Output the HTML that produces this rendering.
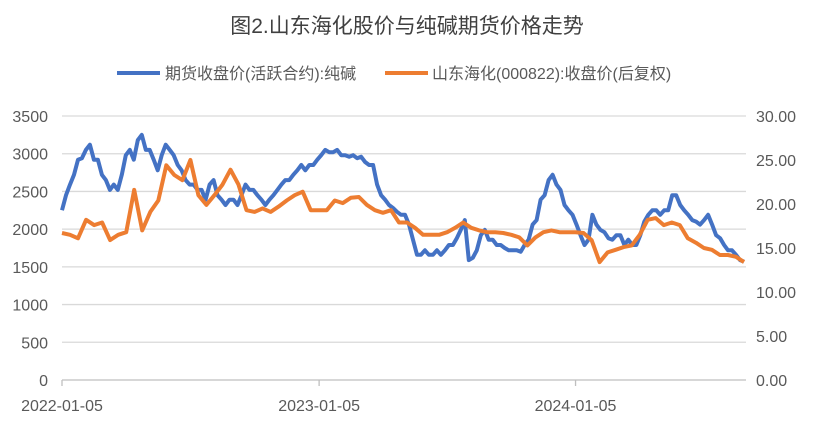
<!DOCTYPE html>
<html><head><meta charset="utf-8"><style>
body{margin:0;background:#fff;font-family:"Liberation Sans","Noto Sans CJK SC",sans-serif;}
</style></head><body>
<svg id="chart" width="814" height="423" xmlns="http://www.w3.org/2000/svg" style="font-family:'Liberation Sans','Noto Sans CJK SC',sans-serif">
<text x="407" y="33" text-anchor="middle" font-size="21" fill="#404040">图2.山东海化股价与纯碱期货价格走势</text>
<g>
<line x1="117" y1="73" x2="160" y2="73" stroke="#4472C4" stroke-width="4"/>
<text x="165" y="79" font-size="16" fill="#595959">期货收盘价(活跃合约):纯碱</text>
<line x1="385" y1="73" x2="428" y2="73" stroke="#ED7D31" stroke-width="4"/>
<text x="432" y="79" font-size="16" fill="#595959">山东海化(000822):收盘价(后复权)</text>
</g>
<g id="grid"></g><g id="axes"></g><g id="series"></g>
</svg>
<script>
const leftTicks=[0,500,1000,1500,2000,2500,3000,3500];
const rightTicks=["0.00","5.00","10.00","15.00","20.00","25.00","30.00"];
const dateLabels=["2022-01-05","2023-01-05","2024-01-05"];
const dateLabelPos=[0,0.377,0.753];
const sodaAsh=[2250,2450,2590,2720,2920,2940,3050,3120,2920,2920,2720,2650,2520,2590,2520,2720,2980,3050,2920,3180,3250,3050,3050,2920,2780,2980,3120,3050,2980,2850,2780,2650,2590,2590,2520,2520,2390,2590,2650,2450,2390,2320,2390,2390,2320,2450,2590,2520,2520,2450,2390,2320,2390,2450,2520,2590,2650,2650,2720,2780,2850,2780,2850,2850,2920,2980,3050,3020,3020,3050,2980,2980,2960,2980,2940,2960,2890,2850,2850,2590,2450,2390,2320,2280,2230,2190,2190,2060,1860,1660,1660,1720,1660,1660,1720,1660,1720,1790,1790,1880,1990,2120,1590,1620,1720,1920,1990,1860,1860,1790,1790,1750,1720,1720,1720,1700,1790,1860,2060,2120,2390,2450,2650,2720,2590,2520,2320,2250,2190,2060,1920,1790,1860,2190,2060,1990,1960,1880,1860,1920,1920,1790,1860,1790,1790,1920,2100,2190,2250,2250,2190,2250,2250,2450,2450,2320,2250,2190,2120,2100,2060,2120,2190,2060,1920,1880,1790,1720,1720,1660,1590,1570];
const haihua=[16.7,16.5,16.1,18.2,17.6,17.9,15.9,16.5,16.8,21.6,17.0,19.1,20.4,24.4,23.3,22.7,25.0,21.0,19.9,21.0,22.2,23.9,22.2,19.3,19.1,19.5,19.1,19.7,20.4,21.0,21.4,19.3,19.3,19.3,20.4,20.1,20.7,20.8,19.9,19.3,19.0,19.3,17.9,17.9,17.3,16.5,16.5,16.5,16.8,17.3,17.9,17.3,17.0,16.8,16.8,16.7,16.5,16.2,15.3,16.2,16.8,17.0,16.8,16.8,16.8,16.7,15.9,13.4,14.5,14.8,15.1,15.3,16.5,18.2,18.4,17.6,17.9,17.6,16.1,15.6,15.0,14.8,14.2,14.2,14.0,13.4];
const X0=62,X1=744,Y0=380,Y1=116;
const yL=v=>Y0-(v/3500)*(Y0-Y1);
const yR=v=>Y0-(v/30)*(Y0-Y1);
const xIdx=(i,n)=>X0+(X1-X0)*i/(n-1);
const NS="http://www.w3.org/2000/svg";
function mk(tag,attrs,parent,text){const e=document.createElementNS(NS,tag);for(const k in attrs)e.setAttribute(k,attrs[k]);if(text!==undefined)e.textContent=text;document.getElementById(parent).appendChild(e);return e;}
leftTicks.forEach(v=>{
  const y=yL(v);
  if(v>0){const g=mk('line',{x1:X0,x2:746,y1:y,y2:y,stroke:'#d9d9d9','stroke-width':1.3},'grid');
  
  }
  const t=mk('text',{x:48,y:y+6,'text-anchor':'end','font-size':16,fill:'#595959'},'axes',String(v));
  
  
});
rightTicks.forEach(s=>{
  const t=mk('text',{x:756,y:yR(parseFloat(s))+6,'font-size':16,fill:'#595959'},'axes',s);
  
  
});
const ax=mk('line',{x1:X0,x2:746,y1:Y0,y2:Y0,stroke:'#bfbfbf','stroke-width':1.3},'axes');


dateLabels.forEach((d,i)=>{
  const x=X0+(X1-X0)*dateLabelPos[i];
  const tk=mk('line',{x1:x,x2:x,y1:Y0,y2:Y0+6,stroke:'#bfbfbf','stroke-width':1.3},'axes');
  
  
  const t=mk('text',{x:x,y:411,'text-anchor':'middle','font-size':16,fill:'#595959'},'axes',d);
  
  
});
const p1=sodaAsh.map((v,i)=>xIdx(i,sodaAsh.length).toFixed(1)+','+yL(v).toFixed(1)).join(' ');
const l1=mk('polyline',{points:p1,fill:'none',stroke:'#4472C4','stroke-width':4,'stroke-linejoin':'round'},'series');


const p2=haihua.map((v,i)=>xIdx(i,haihua.length).toFixed(1)+','+yR(v).toFixed(1)).join(' ');
const l2=mk('polyline',{points:p2,fill:'none',stroke:'#ED7D31','stroke-width':4,'stroke-linejoin':'round'},'series');


</script>
</body></html>
